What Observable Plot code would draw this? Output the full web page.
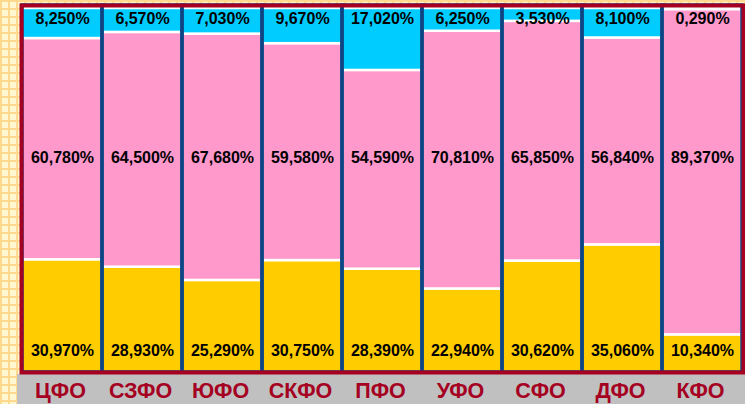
<!DOCTYPE html>
<html>
<head>
<meta charset="utf-8">
<script src="https://cdn.jsdelivr.net/npm/d3@7"></script>
<script src="https://cdn.jsdelivr.net/npm/@observablehq/plot@0.6"></script>
<style>
  html, body { margin: 0; padding: 0; }
  #wrap {
    position: relative;
    width: 745px;
    height: 404px;
    overflow: hidden;
    background-color: #fff7d2;
    background-image:
      repeating-linear-gradient(to right, #ffd98e 0px, #ffd98e 2px, transparent 2px, transparent 8px),
      repeating-linear-gradient(to bottom, #ffd98e 0px, #ffd98e 2px, transparent 2px, transparent 8px);
  }
  #band {
    position: absolute;
    left: 17px;
    top: 374px;
    width: 728px;
    height: 30px;
    background: #c0c0c0;
  }
  #chart { position: absolute; left: 0; top: 0; }
</style>
</head>
<body>
<div id="wrap"><div id="band"></div><div id="chart"></div></div>
<script>
const categories = ["ЦФО", "СЗФО", "ЮФО", "СКФО", "ПФО", "УФО", "СФО", "ДФО", "КФО"];
const seriesBottom = [30.97, 28.93, 25.29, 30.75, 28.39, 22.94, 30.62, 35.06, 10.34];
const seriesMiddle = [60.78, 64.50, 67.68, 59.58, 54.59, 70.81, 65.85, 56.84, 89.37];
const seriesTop    = [8.25, 6.57, 7.03, 9.67, 17.02, 6.25, 3.53, 8.10, 0.29];
const seriesNames = ["s1", "s2", "s3"];
const seriesColors = ["#ffcc00", "#ff99cc", "#00ccff"];

const table = categories.map((c, i) => ({cat: c, s1: seriesBottom[i], s2: seriesMiddle[i], s3: seriesTop[i]}));
const rows = [];
table.forEach(d => seriesNames.forEach(s => rows.push({cat: d.cat, series: s, value: d[s]})));

const fmt = v => d3.format(".3f")(v).replace(".", ",") + "%";
const font = "'Liberation Sans', Arial, sans-serif";
const labelStyle = {fontSize: 16, fontWeight: "bold", fill: "black", lineAnchor: "middle"};

const chart = Plot.plot({
  width: 745,
  height: 404,
  marginLeft: 21,
  marginRight: 2,
  marginTop: 8,
  marginBottom: 32,
  style: {background: "transparent", fontFamily: font},
  x: {domain: categories, padding: 0, label: null},
  y: {domain: [0, 100], axis: null},
  color: {type: "ordinal", domain: seriesNames, range: seriesColors},
  marks: [
    Plot.barY(rows, {
      x: "cat", y: "value", fill: "series", order: seriesNames,
      stroke: "white", strokeWidth: 2.5
    }),
    Plot.barY(table, {
      x: "cat", y: d => d.s1 + d.s2 + d.s3, insetTop: -3,
      fill: "none", stroke: "#0e4585", strokeWidth: 3.5
    }),
    Plot.text(table, {x: "cat", text: d => fmt(d.s3), frameAnchor: "top", dy: 10.5, ...labelStyle}),
    Plot.text(table, {x: "cat", text: d => fmt(d.s2), frameAnchor: "middle", dy: -33, ...labelStyle}),
    Plot.text(table, {x: "cat", text: d => fmt(d.s1), frameAnchor: "bottom", dy: -21.5, ...labelStyle}),
    Plot.frame({stroke: "#a50021", strokeWidth: 4, insetTop: -3}),
    Plot.axisX({tickSize: 0, tickPadding: 10, fontSize: 21.5, fontWeight: "bold",
      fill: "#a50021", label: null, dx: -2})
  ]
});
document.getElementById("chart").appendChild(chart);
</script>
</body>
</html>
